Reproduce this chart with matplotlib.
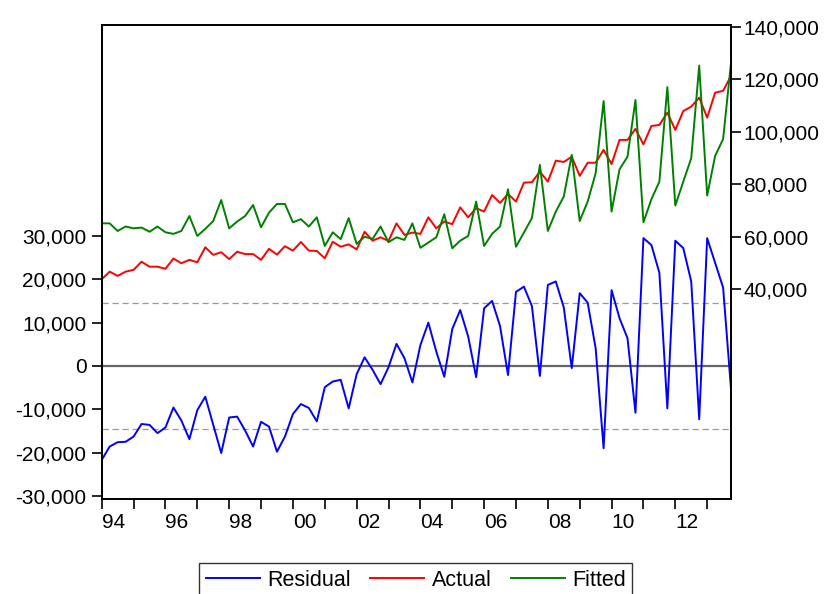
import matplotlib
matplotlib.use('Agg')
import matplotlib.pyplot as plt
from matplotlib.ticker import FuncFormatter, FixedLocator
import numpy as np

plt.rcParams['font.family'] = ['Liberation Sans', 'DejaVu Sans']
plt.rcParams['axes.unicode_minus'] = False

# quarterly data 1994Q1 - 2013Q4
start_year = 1994
residual = [-21700, -18600, -17600, -17500, -16300, -13400, -13600, -15500,
            -14200, -9600, -12600, -16900, -10200, -7100, -13600, -20100,
            -11900, -11700, -14900, -18600, -12900, -14000, -19800, -16300,
            -11100, -8800, -9700, -12800, -4900, -3600, -3200, -9800,
            -1900, 2000, -900, -4200, -300, 5100, 1800, -3800,
            4800, 10000, 3300, -2500, 8500, 12900, 6800, -2600,
            13300, 15000, 9200, -2100, 17100, 18300, 13800, -2300,
            18700, 19500, 13500, -500, 16800, 14600, 4100, -19000,
            17500, 11000, 6400, -10800, 29500, 27900, 21500, -9800,
            28900, 27200, 19500, -12300, 29500, 23800, 18100, -5500]
actual = [43800, 46700, 45100, 46700, 47400, 50500, 48600, 48600,
          47800, 51700, 49900, 51200, 50300, 56000, 53100, 54100,
          51500, 54300, 53400, 53400, 51200, 55400, 53200, 56400,
          54700, 58000, 54700, 54600, 51800, 58100, 56200, 57100,
          55200, 61900, 58500, 59800, 58400, 65100, 60700, 61600,
          61100, 67400, 63200, 65800, 64800, 71200, 67400, 70900,
          69600, 75900, 72900, 76300, 73400, 80600, 80800, 84800,
          81000, 89000, 88500, 90500, 83200, 88200, 88200, 93100,
          87700, 96900, 96900, 101100, 95200, 102200, 102600, 107300,
          100700, 107900, 109600, 113000, 105400, 114900, 115600, 121300]
fitted = [65100, 65100, 62200, 63900, 63200, 63500, 61900, 63900,
          61700, 61100, 62200, 67900, 60300, 63000, 66000, 74000,
          63200, 65800, 67900, 72100, 63600, 69200, 72500, 72500,
          65500, 66700, 63900, 67400, 56500, 61700, 59100, 67100,
          57300, 60000, 59200, 63900, 57900, 59800, 58800, 65100,
          55800, 57800, 59800, 68600, 55600, 58500, 60300, 73400,
          56500, 61100, 63900, 78100, 56200, 61600, 67100, 87400,
          62200, 69600, 75300, 91200, 66000, 73400, 84200, 111700,
          69600, 85700, 90500, 112100, 65500, 74300, 81000, 117000,
          71900, 81000, 89900, 125200, 75700, 90800, 97200, 126500]
se_band = 14500

x = start_year + np.arange(len(actual)) / 4.0
years = list(range(1994, 2014))
year_labels = [f'{y % 100:02d}' if y % 2 == 0 else '' for y in years]

fig = plt.figure(figsize=(8.27, 5.94), dpi=100)
ax = fig.add_axes([0.123, 0.160, 0.761, 0.798])
ax2 = ax.twinx()

# residual on left axis
ax.axhline(0, color='#666666', lw=1.6, zorder=1)
ax.axhline(se_band, color='#999999', lw=0.9, ls=(0, (5, 3)), zorder=1)
ax.axhline(-se_band, color='#999999', lw=0.9, ls=(0, (5, 3)), zorder=1)
l1, = ax.plot(x, residual, color='#0000ff', lw=1.4, label='Residual', zorder=3)

# actual / fitted on right axis
l2, = ax2.plot(x, actual, color='#ff0000', lw=1.4, label='Actual')
l3, = ax2.plot(x, fitted, color='#008000', lw=1.4, label='Fitted')

ax.set_xlim(1994, 2013.75)
ax.set_ylim(-30700, 78700)
ax2.set_ylim(-39900, 140700)

comma = FuncFormatter(lambda v, p: f'{v:,.0f}')
ax.yaxis.set_major_locator(FixedLocator([-30000, -20000, -10000, 0, 10000, 20000, 30000]))
ax.yaxis.set_major_formatter(comma)
ax2.yaxis.set_major_locator(FixedLocator([40000, 60000, 80000, 100000, 120000, 140000]))
ax2.yaxis.set_major_formatter(comma)

ax.set_xticks(years)
ax.set_xticklabels(year_labels, ha='left')

ax.tick_params(axis='y', labelsize=15, length=7, width=1.2, pad=4, direction='out')
ax.tick_params(axis='x', labelsize=15, length=7, width=1.2, pad=3, direction='out')
ax2.tick_params(axis='y', labelsize=15, length=7, width=1.2, pad=2, direction='out')

for a in (ax, ax2):
    for s in a.spines.values():
        s.set_linewidth(1.3)
        s.set_color('black')

leg = fig.legend(handles=[l1, l2, l3], loc='upper center',
                 bbox_to_anchor=(0.503, 0.052), ncol=3, fontsize=15.5,
                 frameon=True, fancybox=False, handlelength=2.5,
                 handletextpad=0.35, columnspacing=0.9, borderpad=0.3,
                 borderaxespad=0)
leg.get_frame().set_edgecolor('black')
leg.get_frame().set_linewidth(1.0)

fig.savefig('out.png', dpi=100)
